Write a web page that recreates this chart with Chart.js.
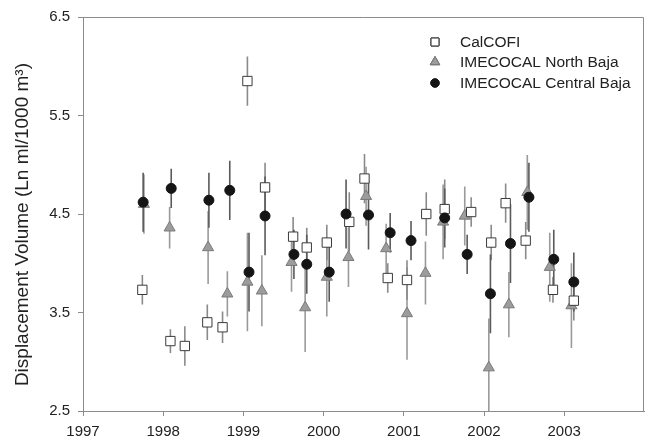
<!DOCTYPE html>
<html>
<head>
<meta charset="utf-8">
<script src="https://cdn.jsdelivr.net/npm/chart.js@4/dist/chart.umd.min.js"></script>
<style>
  html, body { margin: 0; padding: 0; background: #fff; }
  #wrap { width: 652px; height: 440px; position: relative; }
</style>
</head>
<body>
<div id="wrap"><canvas id="c" width="652" height="440"></canvas></div>
<script>
// ---- Data ----
const seriesNames = ["CalCOFI", "IMECOCAL North Baja", "IMECOCAL Central Baja"];

const calDates  = [1997.74, 1998.09, 1998.27, 1998.55, 1998.74, 1999.05, 1999.27, 1999.62, 1999.79, 2000.04, 2000.32, 2000.51, 2000.80, 2001.04, 2001.28, 2001.51, 2001.84, 2002.09, 2002.27, 2002.52, 2002.86, 2003.12];
const calValues = [3.73, 3.21, 3.16, 3.40, 3.35, 5.85, 4.77, 4.27, 4.16, 4.21, 4.42, 4.86, 3.85, 3.83, 4.50, 4.55, 4.52, 4.21, 4.61, 4.23, 3.73, 3.62];
const calErr    = [0.15, 0.12, 0.20, 0.18, 0.16, 0.25, 0.25, 0.20, 0.20, 0.18, 0.30, 0.25, 0.15, 0.20, 0.22, 0.30, 0.15, 0.18, 0.20, 0.19, 0.13, 0.20];

const nbDates   = [1997.76, 1998.08, 1998.56, 1998.80, 1999.05, 1999.23, 1999.60, 1999.77, 2000.04, 2000.31, 2000.53, 2000.78, 2001.04, 2001.27, 2001.49, 2001.76, 2002.06, 2002.31, 2002.54, 2002.82, 2003.09];
const nbValues  = [4.60, 4.36, 4.16, 3.69, 3.81, 3.72, 4.01, 3.55, 3.86, 4.06, 4.68, 4.15, 3.49, 3.90, 4.42, 4.48, 2.94, 3.58, 4.72, 3.96, 3.57];
const nbErr     = [0.30, 0.21, 0.37, 0.23, 0.50, 0.36, 0.30, 0.45, 0.40, 0.30, 0.30, 0.25, 0.47, 0.32, 0.38, 0.30, 0.50, 0.33, 0.38, 0.35, 0.43];

const cbDates   = [1997.75, 1998.10, 1998.57, 1998.83, 1999.07, 1999.27, 1999.63, 1999.79, 2000.07, 2000.28, 2000.56, 2000.83, 2001.09, 2001.51, 2001.79, 2002.08, 2002.33, 2002.56, 2002.87, 2003.12];
const cbValues  = [4.62, 4.76, 4.64, 4.74, 3.91, 4.48, 4.09, 3.99, 3.91, 4.50, 4.49, 4.31, 4.23, 4.46, 4.09, 3.69, 4.20, 4.67, 4.04, 3.81];
const cbErr     = [0.30, 0.20, 0.28, 0.30, 0.40, 0.40, 0.25, 0.30, 0.30, 0.35, 0.35, 0.20, 0.20, 0.30, 0.20, 0.40, 0.40, 0.35, 0.30, 0.30];

const xTicks = [1997, 1998, 1999, 2000, 2001, 2002, 2003];
const yTicks = [2.5, 3.5, 4.5, 5.5, 6.5];
const yTitle = "Displacement Volume (Ln ml/1000 m\u00b3)";

// ---- Helpers ----
const toPts = (d, v) => d.map((x, i) => ({ x: x, y: v[i] }));
const FONT = "'Liberation Sans', Arial, sans-serif";

const errorBarPlugin = {
  id: 'errorBars',
  beforeDatasetsDraw(chart) {
    const ctx = chart.ctx, xs = chart.scales.x, ys = chart.scales.y, a = chart.chartArea;
    ctx.save();
    ctx.beginPath();
    ctx.rect(a.left, a.top, a.right - a.left, a.bottom - a.top);
    ctx.clip();
    // draw triangles' bars first, then squares', then circles'
    [1, 0, 2].forEach(di => {
      const ds = chart.data.datasets[di];
      ctx.strokeStyle = ds.errColor;
      ctx.lineWidth = 1.6;
      ds.data.forEach((p, i) => {
        const e = ds.errs[i];
        const px = xs.getPixelForValue(p.x);
        ctx.beginPath();
        ctx.moveTo(px, ys.getPixelForValue(p.y + e));
        ctx.lineTo(px, ys.getPixelForValue(p.y - e));
        ctx.stroke();
      });
    });
    ctx.restore();
  }
};

const framePlugin = {
  id: 'frame',
  afterDraw(chart) {
    const ctx = chart.ctx, a = chart.chartArea;
    ctx.save();
    ctx.strokeStyle = '#8c8c8c';
    ctx.lineWidth = 1;
    ctx.beginPath();
    ctx.moveTo(Math.round(a.left) + 0.5, Math.round(a.top) + 0.5);
    ctx.lineTo(Math.round(a.right) - 0.5, Math.round(a.top) + 0.5);
    ctx.lineTo(Math.round(a.right) - 0.5, Math.round(a.bottom) + 0.5);
    ctx.stroke();
    ctx.restore();
  }
};

const legendPlugin = {
  id: 'customLegend',
  afterDraw(chart) {
    const ctx = chart.ctx, a = chart.chartArea;
    const mx = a.left + 352, tx = a.left + 377;
    const rows = [a.top + 25, a.top + 45, a.top + 66];
    ctx.save();
    chart.data.datasets.forEach((ds, i) => {
      Chart.helpers.drawPoint(ctx, {
        pointStyle: ds.pointStyle, radius: ds.pointRadius * 0.85, borderWidth: ds.borderWidth, rotation: 0
      }, mx, rows[i]);
      ctx.fillStyle = ds.backgroundColor;
      ctx.strokeStyle = ds.borderColor;
      ctx.lineWidth = ds.borderWidth;
      ctx.beginPath();
      Chart.helpers.drawPoint(ctx, {
        pointStyle: ds.pointStyle, radius: ds.pointRadius * 0.85, borderWidth: ds.borderWidth, rotation: 0
      }, mx, rows[i]);
      ctx.fillStyle = '#222';
      ctx.font = '15.5px ' + FONT;
      ctx.textAlign = 'left';
      ctx.textBaseline = 'middle';
      ctx.fillText(seriesNames[i], tx, rows[i] + 1);
    });
    ctx.restore();
  }
};

new Chart(document.getElementById('c'), {
  type: 'scatter',
  data: {
    datasets: [
      { label: seriesNames[0], data: toPts(calDates, calValues), errs: calErr, errColor: '#8a8a8a',
        pointStyle: 'rect', pointRadius: 6.6, backgroundColor: '#ffffff', borderColor: '#3a3a3a', borderWidth: 1, order: 1 },
      { label: seriesNames[1], data: toPts(nbDates, nbValues), errs: nbErr, errColor: '#9a9a9a',
        pointStyle: 'triangle', pointRadius: 6.4, backgroundColor: '#9c9c9c', borderColor: '#7a7a7a', borderWidth: 1, order: 2 },
      { label: seriesNames[2], data: toPts(cbDates, cbValues), errs: cbErr, errColor: '#5a5a5a',
        pointStyle: 'circle', pointRadius: 5, backgroundColor: '#151515', borderColor: '#151515', borderWidth: 1, order: 0 }
    ]
  },
  options: {
    responsive: false,
    animation: false,
    events: [],
    layout: { padding: { left: 0, right: 2, top: 15, bottom: 0 } },
    plugins: { legend: { display: false }, tooltip: { enabled: false } },
    scales: {
      x: {
        type: 'linear', min: 1997, max: 2004,
        afterBuildTicks: s => { s.ticks = xTicks.map(v => ({ value: v })); },
        afterFit: s => { s.height = 29; },
        ticks: { color: '#222', font: { family: FONT, size: 15 }, padding: 7, callback: v => String(v), maxRotation: 0 },
        grid: { display: true, drawOnChartArea: false, drawTicks: true, tickLength: 5, color: '#8c8c8c' },
        border: { color: '#8c8c8c', width: 1 }
      },
      y: {
        type: 'linear', min: 2.5, max: 6.5,
        afterBuildTicks: s => { s.ticks = yTicks.map(v => ({ value: v })); },
        afterFit: s => { s.width = 83; },
        ticks: { color: '#222', font: { family: FONT, size: 15 }, padding: 8, callback: v => v.toFixed(1) },
        grid: { display: true, drawOnChartArea: false, drawTicks: true, tickLength: 5, color: '#8c8c8c' },
        border: { color: '#8c8c8c', width: 1 },
        title: { display: true, text: yTitle + '\u00a0\u00a0\u00a0\u00a0', color: '#222', font: { family: FONT, size: 19 }, padding: { top: 11, bottom: 0 } }
      }
    }
  },
  plugins: [errorBarPlugin, framePlugin, legendPlugin]
});
</script>
</body>
</html>
